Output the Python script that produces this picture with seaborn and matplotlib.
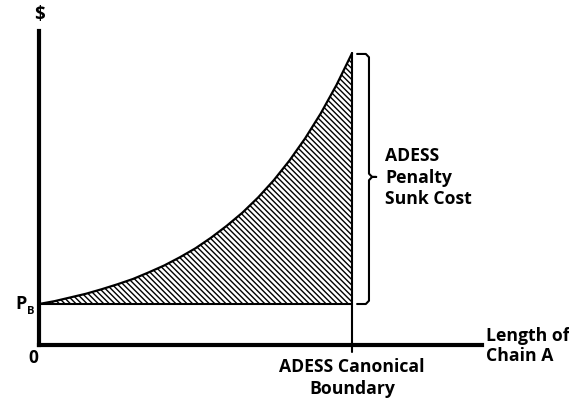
import numpy as np
import pandas as pd
import matplotlib
matplotlib.use("Agg")
import matplotlib.pyplot as plt
import seaborn as sns

# Data (arbitrary units: x = length of chain A, boundary at 1.0; y = cost, P_B = 1.0)
chain_length = [0.0, 0.05, 0.10, 0.15, 0.20, 0.25, 0.30, 0.35, 0.40, 0.45, 0.50,
                0.55, 0.60, 0.65, 0.70, 0.75, 0.80, 0.85, 0.90, 0.95, 1.0]
cost = [1.0, 1.07, 1.16, 1.25, 1.36, 1.48, 1.61, 1.77, 1.94, 2.14, 2.36,
        2.62, 2.91, 3.23, 3.60, 4.02, 4.50, 5.04, 5.65, 6.34, 7.12]
price_b = 1.0
boundary = 1.0
x_label = "Length of\nChain A"
y_label = "$"
origin_label = "0"
boundary_label = "ADESS Canonical\nBoundary"
bracket_label = "ADESS\nPenalty\nSunk Cost"

sns.set_style("white")
plt.rcParams["font.family"] = ["Open Sans", "DejaVu Sans"]
plt.rcParams["hatch.linewidth"] = 1.0

W, H = 569, 402
fig = plt.figure(figsize=(W / 100, H / 100), dpi=100)
ax = fig.add_axes([39 / W, (402 - 346) / H, (482 - 39) / W, (346 - 32) / H])
ax.set_xlim(0, 1.415)
ax.set_ylim(0, 7.66)

df = pd.DataFrame({"x": chain_length, "y": cost})
ax.fill_between(df["x"], price_b, df["y"], facecolor="white", edgecolor="black",
                hatch="\\\\\\\\\\\\", linewidth=0)
sns.lineplot(data=df, x="x", y="y", ax=ax, color="black", linewidth=1.6, sort=False)
ax.plot([0, boundary], [price_b, price_b], color="black", linewidth=1.5)
ax.plot([boundary, boundary], [-0.17, max(cost)], color="black", linewidth=1.5, clip_on=False)

# bracket
top, bot = max(cost) - 0.02, price_b
mid = 4.1
bx0, bx1, btip = 1.016, 1.054, 1.077
ax.plot([bx0, bx1 - 0.01, bx1, bx1, bx1 + 0.01, btip], [top, top, top - 0.08, mid + 0.08, mid, mid],
        color="black", linewidth=1.5, clip_on=False)
ax.plot([btip, bx1 + 0.01, bx1, bx1, bx1 - 0.01, bx0], [mid, mid, mid - 0.08, bot + 0.08, bot, bot],
        color="black", linewidth=1.5, clip_on=False)

for s in ["top", "right"]:
    ax.spines[s].set_visible(False)
for s in ["left", "bottom"]:
    ax.spines[s].set_linewidth(3)
    ax.spines[s].set_color("black")
ax.set_xticks([])
ax.set_yticks([])
ax.set_xlabel("")
ax.set_ylabel("")

fs = 12.7
kw = dict(fontweight="bold", color="black", clip_on=False)
ax.text(0.003, 8.07, y_label, ha="center", va="center", fontsize=13.5, **kw)
ax.text(-0.038, 1.03, "P", ha="right", va="center", fontsize=13, **kw)
ax.text(-0.037, 0.83, "B", ha="left", va="center", fontsize=8, **kw)
ax.text(-0.019, -0.3, origin_label, ha="center", va="center", fontsize=12.5, **kw)
ax.text(boundary, -0.79, boundary_label, ha="center", va="center", fontsize=fs,
        linespacing=1.3, **kw)
ax.text(1.428, 0.0, x_label, ha="left", va="center", fontsize=fs, linespacing=1.2, **kw)
ax.text(1.105, mid, bracket_label, ha="left", va="center", fontsize=fs, linespacing=1.25, **kw)

fig.savefig("out.png", dpi=100)
